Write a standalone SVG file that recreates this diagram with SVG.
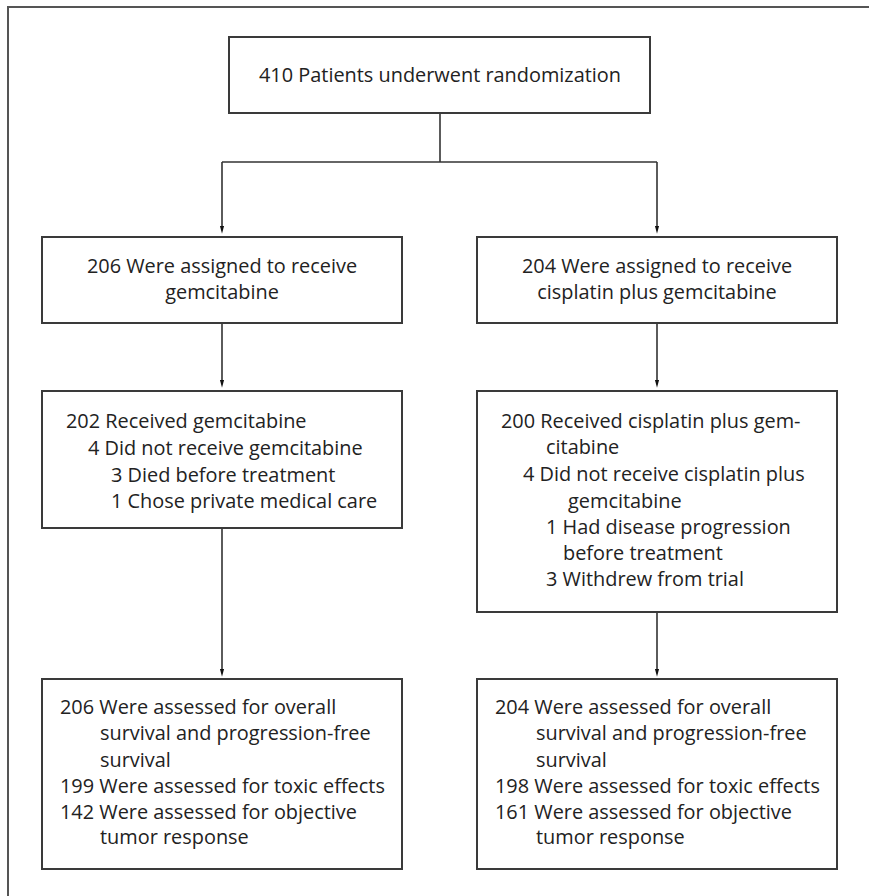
<svg xmlns="http://www.w3.org/2000/svg" width="869" height="896" viewBox="0 0 869 896">
<defs>
<style>
.box{fill:#fff;stroke:#3a3a3a;stroke-width:2}
.ln{fill:none;stroke:#333;stroke-width:1.6}
text{font-family:"Open Sans","Noto Sans","Liberation Sans",sans-serif;font-size:19.9px;fill:#222}
.c{text-anchor:middle}
</style>
<marker id="ah" markerWidth="8" markerHeight="15" refX="8" refY="4" orient="auto" markerUnits="userSpaceOnUse" viewBox="0 0 15 8">
<path d="M0,0 L15,4 L0,8 Z" fill="#111"/>
</marker>
</defs>
<rect width="869" height="896" fill="#fff"/>
<path d="M8,896 V7 H869" fill="none" stroke="#555" stroke-width="2"/>
<g id="connectors">
<path class="ln" d="M440,113 V162"/>
<path class="ln" d="M222,162 H657"/>
<path class="ln" d="M222,162 V230" marker-end="url(#ah)"/>
<path class="ln" d="M657,162 V230" marker-end="url(#ah)"/>
<path class="ln" d="M222,323 V384" marker-end="url(#ah)"/>
<path class="ln" d="M657,323 V384" marker-end="url(#ah)"/>
<path class="ln" d="M222,528 V673" marker-end="url(#ah)"/>
<path class="ln" d="M657,612 V673" marker-end="url(#ah)"/>
</g>
<g id="n_rand">
<rect class="box" x="229" y="37" width="421" height="76"/>
<text class="c" x="440" y="82">410 Patients underwent randomization</text>
</g>
<g id="n_gem">
<rect class="box" x="42" y="237" width="360" height="86"/>
<text class="c" x="222" y="273">206 Were assigned to receive</text>
<text class="c" x="222" y="299">gemcitabine</text>
</g>
<g id="n_cis">
<rect class="box" x="477" y="237" width="360" height="86"/>
<text class="c" x="657" y="273">204 Were assigned to receive</text>
<text class="c" x="657" y="299">cisplatin plus gemcitabine</text>
</g>
<g id="n_gem_rec">
<rect class="box" x="42" y="391" width="360" height="137"/>
<text x="66" y="428">202 Received gemcitabine</text>
<text x="88" y="455">4 Did not receive gemcitabine</text>
<text x="111" y="482">3 Died before treatment</text>
<text x="111" y="508">1 Chose private medical care</text>
</g>
<g id="n_cis_rec">
<rect class="box" x="477" y="391" width="360" height="221"/>
<text x="501" y="428">200 Received cisplatin plus gem-</text>
<text x="546" y="454">citabine</text>
<text x="523" y="481">4 Did not receive cisplatin plus</text>
<text x="568" y="508">gemcitabine</text>
<text x="546" y="534">1 Had disease progression</text>
<text x="563" y="560">before treatment</text>
<text x="546" y="586">3 Withdrew from trial</text>
</g>
<g id="n_gem_assess">
<rect class="box" x="42" y="679" width="360" height="190"/>
<text x="60" y="714">206 Were assessed for overall</text>
<text x="100" y="740">survival and progression-free</text>
<text x="100" y="767">survival</text>
<text x="60" y="793">199 Were assessed for toxic effects</text>
<text x="60" y="819">142 Were assessed for objective</text>
<text x="100" y="844">tumor response</text>
</g>
<g id="n_cis_assess">
<rect class="box" x="477" y="679" width="360" height="190"/>
<text x="495" y="714">204 Were assessed for overall</text>
<text x="536" y="740">survival and progression-free</text>
<text x="536" y="767">survival</text>
<text x="495" y="793">198 Were assessed for toxic effects</text>
<text x="495" y="819">161 Were assessed for objective</text>
<text x="536" y="844">tumor response</text>
</g>
</svg>
